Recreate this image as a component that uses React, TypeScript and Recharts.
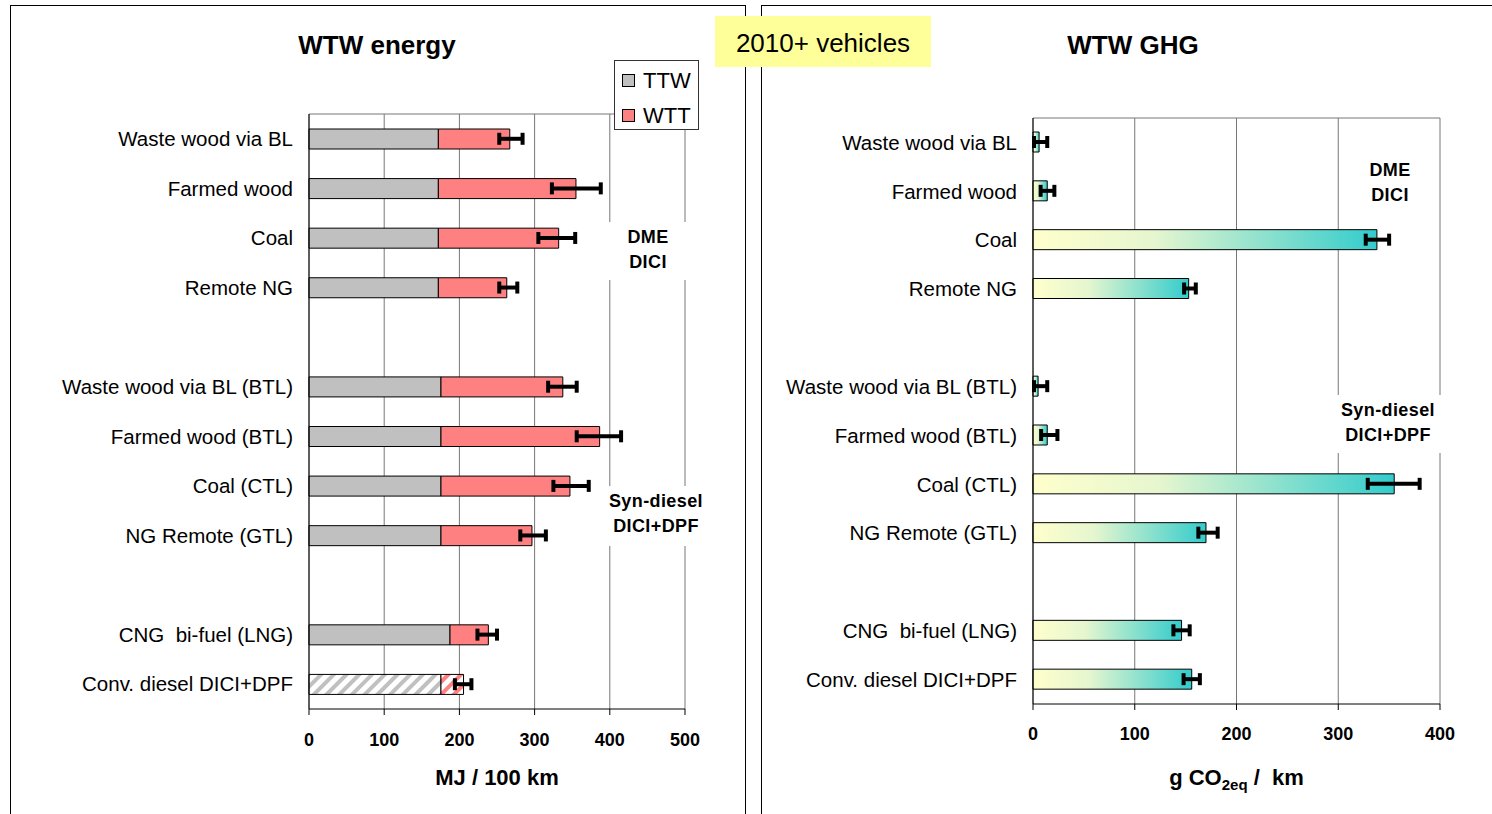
import React from 'react';
import {
  ComposedChart,
  Bar,
  Line,
  XAxis,
  YAxis,
  CartesianGrid,
  ErrorBar,
  Cell,
  Legend,
  Label,
} from 'recharts';

// ---------- data ----------
const categories = [
  'Waste wood via BL',
  'Farmed wood',
  'Coal',
  'Remote NG',
  '',
  'Waste wood via BL (BTL)',
  'Farmed wood (BTL)',
  'Coal (CTL)',
  'NG Remote (GTL)',
  '',
  'CNG\u00a0 bi-fuel (LNG)',
  'Conv. diesel DICI+DPF',
];

// WTW energy (MJ / 100 km)
const ttwEnergy = [172, 172, 172, 172, null, 175.5, 175.5, 175.5, 175.5, null, 187.5, 175.5];
const wttEnergy = [95, 183, 160, 91, null, 162, 211, 171.5, 121, null, 51, 30];
const energyErrLow = [253, 323, 305, 253, null, 318, 356, 325, 281, null, 224, 194];
const energyErrHigh = [284, 388, 354, 277, null, 356, 415, 372, 315, null, 250, 216];

// WTW GHG (g CO2eq / km)
const ghgValues = [6, 14, 338, 153, null, 5, 14, 355, 170, null, 146, 156];
const ghgErrLow = [1, 7.5, 327, 148.5, null, 1, 8, 329, 162.5, null, 138, 148];
const ghgErrHigh = [14, 21, 350, 160, null, 14, 24, 380, 181.5, null, 154, 164];

const energyTicks = [0, 100, 200, 300, 400, 500];
const ghgTicks = [0, 100, 200, 300, 400];

const HATCHED_CATEGORY = 'Conv. diesel DICI+DPF';

// ---------- tables built from the arrays ----------
const energyRows = categories.map((name, i) => {
  const ttw = ttwEnergy[i];
  const wtt = wttEnergy[i];
  const total = ttw != null && wtt != null ? ttw + wtt : null;
  return {
    name,
    ttw,
    wtt,
    total,
    err:
      total != null
        ? [total - (energyErrLow[i] as number), (energyErrHigh[i] as number) - total]
        : null,
  };
});

const ghgRows = categories.map((name, i) => {
  const v = ghgValues[i];
  return {
    name,
    ghg: v,
    err: v != null ? [v - (ghgErrLow[i] as number), (ghgErrHigh[i] as number) - v] : null,
  };
});

// ---------- styles ----------
const FONT = '"Liberation Sans", Arial, Helvetica, sans-serif';
const TTW_COLOR = '#C0C0C0';
const WTT_COLOR = '#FF8080';
const GRID = '#777777';

// top frame line of the plot area (taken from the chart's own offset)
const plotTopEdge = ({ offset }: any) => [offset.top];

const LegendBox = (props: any) => {
  const items = (props.payload || []).filter((p: any) => p.type !== 'none');
  return (
    <div
      style={{
        width: 85,
        height: 70,
        boxSizing: 'border-box',
        border: '1px solid #333',
        background: '#fff',
        paddingTop: 2,
        fontFamily: FONT,
      }}
    >
      {items.map((it: any) => (
        <div
          key={it.value}
          style={{ height: 35, display: 'flex', alignItems: 'center', paddingLeft: 7 }}
        >
          <span
            style={{
              display: 'inline-block',
              width: 13,
              height: 13,
              boxSizing: 'border-box',
              border: '1px solid #000',
              background: it.color,
              marginRight: 8,
            }}
          />
          <span style={{ fontSize: 22, lineHeight: '22px', color: '#000' }}>{it.value}</span>
        </div>
      ))}
    </div>
  );
};

const Note = ({ cx, top, width, height, lines }: any) => (
  <div
    style={{
      position: 'absolute',
      left: cx - width / 2,
      top,
      width,
      height,
      background: '#fff',
      boxSizing: 'border-box',
      paddingTop: 3,
      textAlign: 'center',
      fontWeight: 'bold',
      fontSize: 18,
      lineHeight: '25px',
      letterSpacing: 0.4,
      color: '#000',
      fontFamily: FONT,
    }}
  >
    {lines.map((l: string) => (
      <div key={l}>{l}</div>
    ))}
  </div>
);

const catTick = { fontSize: 20.5, fill: '#000', fontFamily: FONT };
const numTick = { fontSize: 18, fill: '#000', fontWeight: 'bold', fontFamily: FONT };

const GhgAxisLabel = (props: any) => {
  const { x, y, width, height } = props.viewBox;
  return (
    <text
      x={x + width / 2}
      y={y + height}
      textAnchor="middle"
      fontSize={22}
      fontWeight="bold"
      fill="#000"
      fontFamily={FONT}
    >
      g CO
      <tspan fontSize={15} dy={5}>
        2eq
      </tspan>
      <tspan dy={-5}>{'\u00a0/\u00a0 km'}</tspan>
    </text>
  );
};

export default function App() {
  return (
    <div
      style={{
        position: 'absolute',
        left: 0,
        top: 0,
        width: 1492,
        height: 814,
        overflow: 'hidden',
        background: '#fff',
        fontFamily: FONT,
      }}
    >
      {/* panel frames */}
      <div
        style={{
          position: 'absolute',
          left: 10,
          top: 5,
          width: 736,
          height: 900,
          borderLeft: '1px solid #000',
          borderTop: '1px solid #000',
          borderRight: '1px solid #000',
          boxSizing: 'border-box',
        }}
      />
      <div
        style={{
          position: 'absolute',
          left: 761,
          top: 5,
          width: 800,
          height: 900,
          borderLeft: '1px solid #000',
          borderTop: '1px solid #000',
          boxSizing: 'border-box',
        }}
      />

      {/* left chart: WTW energy */}
      <div style={{ position: 'absolute', left: 0, top: 0 }}>
        <ComposedChart
          width={746}
          height={814}
          data={energyRows}
          layout="vertical"
          margin={{ top: 114, right: 61, bottom: 29, left: 9 }}
          style={{ fontFamily: FONT }}
        >
          <defs>
            <pattern
              id="hatchGray"
              patternUnits="userSpaceOnUse"
              width="9"
              height="9"
              patternTransform="rotate(45)"
            >
              <rect width="9" height="9" fill="#fff" />
              <rect width="4" height="9" fill={TTW_COLOR} />
            </pattern>
            <pattern
              id="hatchPink"
              patternUnits="userSpaceOnUse"
              width="9"
              height="9"
              patternTransform="rotate(45)"
            >
              <rect width="9" height="9" fill="#fff" />
              <rect width="4" height="9" fill={WTT_COLOR} />
            </pattern>
          </defs>
          <CartesianGrid
            horizontal
            vertical
            stroke={GRID}
            horizontalCoordinatesGenerator={plotTopEdge}
          />
          <XAxis
            type="number"
            domain={[0, 500]}
            ticks={energyTicks}
            interval={0}
            tick={numTick}
            tickSize={6}
            tickMargin={18}
            tickLine={{ stroke: '#000' }}
            axisLine={{ stroke: '#000' }}
            height={76}
          >
            <Label
              value="MJ / 100 km"
              position="insideBottom"
              offset={0}
              fontSize={22}
              fontWeight="bold"
              fill="#000"
            />
          </XAxis>
          <YAxis
            type="category"
            dataKey="name"
            width={300}
            interval={0}
            tick={catTick}
            tickSize={0}
            tickMargin={16}
            tickLine={false}
            axisLine={{ stroke: '#000' }}
          />
          <Legend
            layout="horizontal"
            verticalAlign="middle"
            align="center"
            wrapperStyle={{ position: 'absolute', left: 614, top: 60, width: 85, height: 70 }}
            content={LegendBox}
          />
          <Bar
            dataKey="ttw"
            name="TTW"
            stackId="e"
            fill={TTW_COLOR}
            stroke="#000"
            strokeWidth={1}
            barSize={20}
            isAnimationActive={false}
          >
            {energyRows.map((r, i) => (
              <Cell key={i} fill={r.name === HATCHED_CATEGORY ? 'url(#hatchGray)' : TTW_COLOR} />
            ))}
          </Bar>
          <Bar
            dataKey="wtt"
            name="WTT"
            stackId="e"
            fill={WTT_COLOR}
            stroke="#000"
            strokeWidth={1}
            barSize={20}
            isAnimationActive={false}
          >
            {energyRows.map((r, i) => (
              <Cell key={i} fill={r.name === HATCHED_CATEGORY ? 'url(#hatchPink)' : WTT_COLOR} />
            ))}
          </Bar>
          <Line
            dataKey="total"
            stroke="none"
            dot={false}
            activeDot={false}
            legendType="none"
            isAnimationActive={false}
          >
            <ErrorBar
              dataKey="err"
              direction="x"
              width={6}
              strokeWidth={4}
              stroke="#000"
              isAnimationActive={false}
            />
          </Line>
        </ComposedChart>
      </div>

      {/* right chart: WTW GHG */}
      <div style={{ position: 'absolute', left: 747, top: 0 }}>
        <ComposedChart
          width={745}
          height={814}
          data={ghgRows}
          layout="vertical"
          margin={{ top: 118, right: 52, bottom: 29, left: 6 }}
          style={{ fontFamily: FONT }}
        >
          <defs>
            <linearGradient id="ghgGrad" x1="0" y1="0" x2="1" y2="0">
              <stop offset="0%" stopColor="#FFFFCC" />
              <stop offset="35%" stopColor="#E6F6CF" />
              <stop offset="100%" stopColor="#33CCCC" />
            </linearGradient>
          </defs>
          <CartesianGrid
            horizontal
            vertical
            stroke={GRID}
            horizontalCoordinatesGenerator={plotTopEdge}
          />
          <XAxis
            type="number"
            domain={[0, 400]}
            ticks={ghgTicks}
            interval={0}
            tick={numTick}
            tickSize={6}
            tickMargin={17}
            tickLine={{ stroke: '#000' }}
            axisLine={{ stroke: '#000' }}
            height={81}
          >
            <Label content={GhgAxisLabel} position="insideBottom" />
          </XAxis>
          <YAxis
            type="category"
            dataKey="name"
            width={280}
            interval={0}
            tick={catTick}
            tickSize={0}
            tickMargin={16}
            tickLine={false}
            axisLine={{ stroke: '#000' }}
          />
          <Bar
            dataKey="ghg"
            name="WTW GHG"
            fill="url(#ghgGrad)"
            stroke="#000"
            strokeWidth={1}
            barSize={20}
            isAnimationActive={false}
          >
            <ErrorBar
              dataKey="err"
              direction="x"
              width={6}
              strokeWidth={4}
              stroke="#000"
              isAnimationActive={false}
            />
          </Bar>
        </ComposedChart>
      </div>

      {/* titles */}
      <div
        style={{
          position: 'absolute',
          left: 177,
          top: 30,
          width: 400,
          textAlign: 'center',
          fontSize: 26,
          lineHeight: '30px',
          fontWeight: 'bold',
          color: '#000',
        }}
      >
        WTW energy
      </div>
      <div
        style={{
          position: 'absolute',
          left: 933,
          top: 30,
          width: 400,
          textAlign: 'center',
          fontSize: 26,
          lineHeight: '30px',
          fontWeight: 'bold',
          color: '#000',
        }}
      >
        WTW GHG
      </div>

      {/* 2010+ vehicles box */}
      <div
        style={{
          position: 'absolute',
          left: 715,
          top: 16,
          width: 216,
          height: 51,
          background: '#FFFF99',
          display: 'flex',
          alignItems: 'center',
          justifyContent: 'center',
          fontSize: 26,
          lineHeight: '30px',
          paddingTop: 2,
          boxSizing: 'border-box',
          color: '#000',
        }}
      >
        2010+ vehicles
      </div>

      {/* group annotations */}
      <Note cx={648} top={222} width={86} height={58} lines={['DME', 'DICI']} />
      <Note cx={656} top={486} width={104} height={60} lines={['Syn-diesel', 'DICI+DPF']} />
      <Note cx={1390} top={155} width={80} height={55} lines={['DME', 'DICI']} />
      <Note cx={1388} top={395} width={107} height={58} lines={['Syn-diesel', 'DICI+DPF']} />
    </div>
  );
}
